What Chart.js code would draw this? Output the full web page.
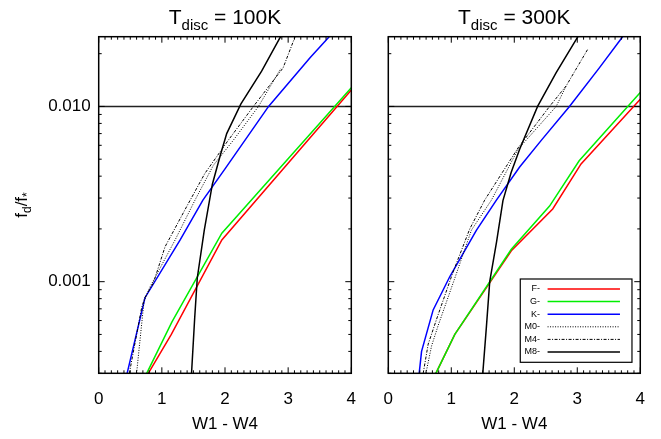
<!DOCTYPE html>
<html>
<head>
<meta charset="utf-8">
<script src="https://cdn.jsdelivr.net/npm/chart.js@4"></script>
<style>
  html, body { margin: 0; padding: 0; background: #fff; }
  #wrap { position: relative; width: 661px; height: 439px; }
  #wrap canvas { position: absolute; left: 0; top: 0; }
</style>
</head>
<body>
<div id="wrap">
  <canvas id="leftChart" width="661" height="439"></canvas>
  <canvas id="rightChart" width="661" height="439"></canvas>
</div>
<script>
// axis values
const xTicks = [0, 1, 2, 3, 4];
const xTickLabels = ["0", "1", "2", "3", "4"];
const yMajor = [0.001, 0.01];
const yMajorLabels = ["0.001", "0.010"];
const yMinor = [0.0003, 0.0004, 0.0005, 0.0006, 0.0007, 0.0008, 0.0009,
  0.002, 0.003, 0.004, 0.005, 0.006, 0.007, 0.008, 0.009, 0.02];
const yMin = 0.0003, yMax = 0.025;
const refLevel = 0.01;

// T_disc = 100K  ([W1-W4, fd/f*] pairs)
const f100 = [[0.785, 0.0003], [1.15, 0.0005], [1.95, 0.00173], [4.0, 0.0124]];
const g100 = [[0.76, 0.0003], [1.16, 0.00059], [1.95, 0.00189], [4.0, 0.0128]];
const k100 = [[0.45, 0.0003], [0.733, 0.00081], [1.29, 0.00173], [1.65, 0.00292], [2.0, 0.0044], [2.69, 0.0100], [3.35, 0.0190], [3.65, 0.0250]];
const m0_100 = [[0.60, 0.0003], [0.717, 0.00077], [0.81, 0.00093], [1.21, 0.00173], [1.525, 0.00292], [1.815, 0.00461], [2.13, 0.0064], [2.53, 0.0100], [2.88, 0.0164]];
const m4_100 = [[0.485, 0.0003], [0.68, 0.00071], [0.73, 0.00081], [0.865, 0.00098], [1.05, 0.00158], [1.39, 0.00267], [1.68, 0.00414], [2.05, 0.0064], [2.45, 0.0100], [2.92, 0.0166], [3.11, 0.0250]];
const m8_100 = [[1.47, 0.0003], [1.52, 0.00062], [1.561, 0.00105], [1.672, 0.00197], [1.80, 0.0036], [1.921, 0.0052], [2.027, 0.0070], [2.25, 0.0103], [2.58, 0.0159], [2.88, 0.0250]];

// T_disc = 300K
const f300 = [[0.755, 0.0003], [1.056, 0.0005], [1.953, 0.0015], [2.61, 0.0026], [3.06, 0.0047], [4.0, 0.0110]];
const g300 = [[0.755, 0.0003], [1.056, 0.0005], [1.953, 0.00153], [2.56, 0.0027], [3.03, 0.0049], [4.0, 0.0120]];
const k300 = [[0.49, 0.0003], [0.528, 0.0004], [0.712, 0.00069], [0.977, 0.00107], [1.40, 0.00197], [1.716, 0.00292], [2.085, 0.00451], [2.428, 0.0064], [2.876, 0.0100], [3.35, 0.0166], [3.72, 0.0250]];
const m0_300 = [[0.597, 0.0003], [0.687, 0.00043], [0.79, 0.00056], [1.049, 0.00103], [1.32, 0.00197], [1.637, 0.00292], [2.06, 0.0057], [2.665, 0.0100], [2.824, 0.0131]];
const m4_300 = [[0.554, 0.0003], [0.633, 0.00044], [0.766, 0.00061], [1.022, 0.00112], [1.293, 0.0020], [1.53, 0.00292], [2.06, 0.0058], [2.56, 0.0100], [2.824, 0.0131], [3.166, 0.0212]];
const m8_300 = [[1.50, 0.0003], [1.557, 0.00055], [1.61, 0.0010], [1.72, 0.0017], [1.82, 0.0029], [1.95, 0.0042], [2.085, 0.0057], [2.37, 0.0100], [2.665, 0.0156], [3.01, 0.0250]];

const FONT = "'Liberation Sans', Arial, Helvetica, sans-serif";
Chart.defaults.font.family = FONT;
Chart.defaults.color = "#000";

const toPts = arr => arr.map(([x, y]) => ({ x, y }));

// later series are drawn on top (lower order = on top in Chart.js)
function buildDatasets(f, g, k, m0, m4, m8) {
  return [
    { label: "", skipLegend: true, order: 10, data: toPts([[xTicks[0], refLevel], [xTicks[xTicks.length - 1], refLevel]]), borderColor: "#222", borderWidth: 1.5 },
    { label: "F-", order: 6, data: toPts(f), borderColor: "#ff0000", borderWidth: 1.5 },
    { label: "G-", order: 5, data: toPts(g), borderColor: "#00ee00", borderWidth: 1.5 },
    { label: "K-", order: 4, data: toPts(k), borderColor: "#0000ff", borderWidth: 1.5 },
    { label: "M0-", order: 3, data: toPts(m0), borderColor: "#000", borderWidth: 1, borderDash: [1, 1.5] },
    { label: "M4-", order: 2, data: toPts(m4), borderColor: "#000", borderWidth: 1, borderDash: [3, 1.5, 1, 1.5] },
    { label: "M8-", order: 1, data: toPts(m8), borderColor: "#000", borderWidth: 1.5 }
  ];
}

// IDL-style frame with inward ticks on all four sides
const frameTicks = {
  id: "frameTicks",
  afterDatasetsDraw(chart) {
    const { ctx, chartArea: a, scales: { x, y } } = chart;
    ctx.save();
    ctx.strokeStyle = "#000";
    ctx.lineWidth = 1;
    ctx.beginPath();
    for (let i = 0; i <= 40; i++) {
      const px = x.getPixelForValue(i / 10);
      const len = i % 10 === 0 ? 6 : 3;
      ctx.moveTo(px, a.bottom); ctx.lineTo(px, a.bottom - len);
      ctx.moveTo(px, a.top); ctx.lineTo(px, a.top + len);
    }
    yMajor.forEach(v => {
      const py = y.getPixelForValue(v);
      ctx.moveTo(a.left, py); ctx.lineTo(a.left + 6, py);
      ctx.moveTo(a.right, py); ctx.lineTo(a.right - 6, py);
    });
    yMinor.forEach(v => {
      const py = y.getPixelForValue(v);
      ctx.moveTo(a.left, py); ctx.lineTo(a.left + 3, py);
      ctx.moveTo(a.right, py); ctx.lineTo(a.right - 3, py);
    });
    ctx.stroke();
    ctx.lineWidth = 1.5;
    ctx.strokeRect(a.left, a.top, a.width, a.height);
    ctx.restore();
  }
};

// title with subscript: T_disc = ...K
const panelTitle = {
  id: "panelTitle",
  afterDraw(chart, args, opts) {
    const { ctx, chartArea: a } = chart;
    const big = "21px " + FONT, small = "15px " + FONT;
    ctx.save();
    ctx.fillStyle = "#000";
    ctx.textBaseline = "alphabetic";
    ctx.font = big; const w1 = ctx.measureText(opts.main).width; const w3 = ctx.measureText(opts.rest).width;
    ctx.font = small; const w2 = ctx.measureText(opts.sub).width;
    let x0 = (a.left + a.right) / 2 - (w1 + w2 + w3) / 2;
    ctx.font = big; ctx.fillText(opts.main, x0, 24);
    ctx.font = small; ctx.fillText(opts.sub, x0 + w1, 29.5);
    ctx.font = big; ctx.fillText(opts.rest, x0 + w1 + w2, 24);
    ctx.restore();
  }
};

// rotated y label f_d/f_*
const yLabel = {
  id: "yLabel",
  afterDraw(chart, args, opts) {
    if (!opts.show) return;
    const { ctx } = chart;
    const big = "17px " + FONT, small = "12px " + FONT;
    const parts = [["f", big, 0], ["d", small, 4], ["/f", big, 0], ["*", small, 4]];
    ctx.save();
    ctx.translate(27, 205);
    ctx.rotate(-Math.PI / 2);
    let total = 0;
    parts.forEach(p => { ctx.font = p[1]; total += ctx.measureText(p[0]).width; });
    let cx = -total / 2;
    ctx.fillStyle = "#000";
    parts.forEach(p => { ctx.font = p[1]; ctx.fillText(p[0], cx, p[2]); cx += ctx.measureText(p[0]).width; });
    ctx.restore();
  }
};

// boxed legend, label left of line sample
const legendBox = {
  id: "legendBox",
  afterDatasetsDraw(chart, args, opts) {
    if (!opts.show) return;
    const { ctx, chartArea: a } = chart;
    const bx = a.right - 120, by = a.bottom - 94.3, bw = 111.7, bh = 83.3;
    ctx.save();
    ctx.fillStyle = "#fff";
    ctx.fillRect(bx, by, bw, bh);
    ctx.strokeStyle = "#000";
    ctx.lineWidth = 1.2;
    ctx.strokeRect(bx, by, bw, bh);
    const items = chart.data.datasets.filter(d => !d.skipLegend);
    ctx.font = "9px " + FONT;
    ctx.textAlign = "right";
    ctx.textBaseline = "middle";
    items.forEach((d, i) => {
      const ty = by + 10 + i * 12.6;
      ctx.fillStyle = "#000";
      ctx.fillText(d.label, bx + 19.7, ty);
      ctx.strokeStyle = d.borderColor;
      ctx.lineWidth = d.borderWidth;
      ctx.setLineDash(d.borderDash || []);
      ctx.beginPath();
      ctx.moveTo(bx + 27.3, ty); ctx.lineTo(bx + 99.7, ty);
      ctx.stroke();
    });
    ctx.restore();
  }
};

function makeChart(canvasId, datasets, side, titleRest) {
  const isLeft = side === "left";
  return new Chart(document.getElementById(canvasId), {
    type: "line",
    data: { datasets },
    options: {
      responsive: false,
      animation: false,
      events: [],
      layout: { padding: isLeft ? { left: 0, right: 309.7, top: 36.7, bottom: 0 } : { left: 388.3, right: 20, top: 36.7, bottom: 0 } },
      elements: { point: { radius: 0 }, line: { tension: 0 } },
      scales: {
        x: {
          type: "linear", min: xTicks[0], max: xTicks[xTicks.length - 1],
          afterBuildTicks: s => { s.ticks = xTicks.map(v => ({ value: v })); },
          afterFit: s => { s.height = 65.7; },
          ticks: { callback: (v, i) => xTickLabels[i], font: { size: 17 }, color: "#000", padding: 16, maxRotation: 0, autoSkip: false },
          grid: { display: false, drawTicks: false },
          border: { display: false },
          title: { display: true, text: "W1 - W4", font: { size: 17 }, color: "#000", padding: { top: 0, bottom: 4 } }
        },
        y: {
          type: "logarithmic", min: yMin, max: yMax, display: isLeft,
          afterBuildTicks: s => { s.ticks = yMajor.map(v => ({ value: v })); },
          afterFit: s => { s.width = isLeft ? 98.7 : 0; },
          ticks: { callback: (v, i) => yMajorLabels[i], font: { size: 17 }, color: "#000", padding: 8, autoSkip: false },
          grid: { display: false, drawTicks: false },
          border: { display: false }
        }
      },
      plugins: {
        legend: { display: false },
        tooltip: { enabled: false },
        panelTitle: { main: "T", sub: "disc", rest: titleRest },
        yLabel: { show: isLeft },
        legendBox: { show: !isLeft }
      }
    },
    plugins: [frameTicks, legendBox, panelTitle, yLabel]
  });
}

makeChart("leftChart", buildDatasets(f100, g100, k100, m0_100, m4_100, m8_100), "left", " = 100K");
makeChart("rightChart", buildDatasets(f300, g300, k300, m0_300, m4_300, m8_300), "right", " = 300K");
</script>
</body>
</html>
